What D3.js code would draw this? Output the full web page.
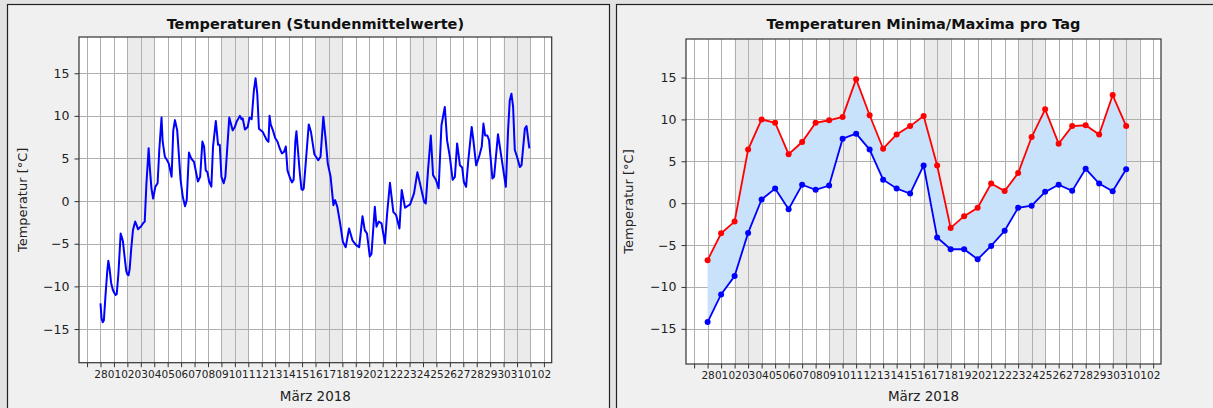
<!DOCTYPE html>
<html><head><meta charset="utf-8">
<script src="https://cdn.jsdelivr.net/npm/d3@7"></script>
<style>
body{margin:0;background:#e3e3e3;}
svg{display:block;font-family:"DejaVu Sans",sans-serif;}
</style>
</head><body>
<svg id="c" width="1213" height="408"></svg>
<script>
// ---------- data ----------
// hourly means: hours since 2018-02-28 00:00 and temperature
const hourOffsets = [0,2,4,6,9,12,14,16,19,22,25,27,29,32,36,38,40,43,46,48,50,52,55,58,62,65,67,70,72,76,79,82,86,88,91,94,98,102,105,109,111,115,119,122,127,130,133,137,143,147,151,154,158,162,167,174,178,182,185,188,191,194,198,201,206,210,213,216,220,223,230,236,240,243,249,252,254,258,263,266,270,274,277,280,283,290,297,300,302,304,308,312,316,320,324,328,331,334,338,342,345,348,350,352,356,359,361,363,372,376,382,389,393,398,402,406,411,416,419,423,428,433,438,444,450,457,462,468,472,476,481,484,490,493,497,502,508,512,517,523,528,534,538,544,553,560,566,572,578,581,585,590,594,599,604,609,615,619,624,629,633,637,642,646,649,653,657,663,666,671,677,681,684,687,691,694,700,703,710,716,724,728,731,734,737,740,744,749,752,758,761,766];
const hourTemps = [-12.0,-13.8,-14.2,-14.0,-11.0,-8.3,-7.0,-7.8,-9.6,-10.4,-10.8,-11.0,-10.9,-8.5,-3.8,-4.2,-4.7,-6.5,-8.2,-8.6,-8.7,-8.0,-5.5,-3.4,-2.4,-2.9,-3.3,-3.1,-3.0,-2.6,-2.4,2.0,6.2,4.0,1.5,0.3,1.7,2.1,6.0,9.8,7.0,5.2,4.8,4.4,2.85,8.3,9.5,8.3,2.5,0.5,-0.6,0.1,5.7,5.0,4.6,2.3,2.85,7.0,6.4,3.6,3.4,2.3,1.7,6.4,9.4,6.6,6.6,2.85,2.1,2.85,9.8,8.3,8.7,9.3,10.0,9.6,9.7,8.4,8.7,9.8,9.6,13.0,14.4,12.6,8.5,8.1,7.15,6.95,10.0,9.0,8.3,7.4,7.0,6.2,5.6,5.8,6.4,3.6,2.8,2.2,2.5,7.0,8.2,6.5,3.3,1.4,1.3,1.5,9.0,8.1,5.5,4.8,5.2,9.9,7.35,4.4,2.85,-0.47,0.12,-0.67,-2.6,-4.8,-5.4,-3.2,-4.6,-5.2,-5.4,-1.76,-3.4,-3.8,-6.5,-6.2,-0.67,-3.0,-2.4,-2.6,-4.96,-1.44,2.15,-1.25,-1.64,-3.2,1.3,-0.78,-0.39,0.9,3.4,1.68,-0.08,-0.27,3.6,7.7,3.05,2.5,1.5,8.9,11.05,7.15,5.2,2.5,2.85,6.77,4.2,3.95,2.27,1.68,4.8,8.7,7.15,4.2,5.4,6.4,9.1,7.7,7.7,7.15,2.66,2.85,7.85,5.2,1.68,8.3,11.8,12.6,11.05,6.0,5.2,4.0,4.2,8.5,8.8,6.2];

const dayDates = ["2018-02-28","2018-03-01","2018-03-02","2018-03-03","2018-03-04","2018-03-05","2018-03-06","2018-03-07","2018-03-08","2018-03-09","2018-03-10","2018-03-11","2018-03-12","2018-03-13","2018-03-14","2018-03-15","2018-03-16","2018-03-17","2018-03-18","2018-03-19","2018-03-20","2018-03-21","2018-03-22","2018-03-23","2018-03-24","2018-03-25","2018-03-26","2018-03-27","2018-03-28","2018-03-29","2018-03-30","2018-03-31"];
const dailyMax = [-6.8,-3.6,-2.2,6.4,10.0,9.6,5.85,7.3,9.6,9.9,10.3,14.8,10.5,6.5,8.2,9.2,10.4,4.5,-2.95,-1.55,-0.55,2.35,1.45,3.6,7.9,11.2,7.1,9.2,9.3,8.2,12.9,9.2];
const dailyMin = [-14.2,-10.9,-8.7,-3.55,0.44,1.75,-0.72,2.2,1.6,2.1,7.7,8.3,6.4,2.8,1.75,1.15,4.5,-4.1,-5.5,-5.5,-6.7,-5.1,-3.3,-0.55,-0.3,1.35,2.2,1.47,4.1,2.35,1.43,4.05];

const tickDays = ["2018-02-27","2018-02-28","2018-03-01","2018-03-02","2018-03-03","2018-03-04","2018-03-05","2018-03-06","2018-03-07","2018-03-08","2018-03-09","2018-03-10","2018-03-11","2018-03-12","2018-03-13","2018-03-14","2018-03-15","2018-03-16","2018-03-17","2018-03-18","2018-03-19","2018-03-20","2018-03-21","2018-03-22","2018-03-23","2018-03-24","2018-03-25","2018-03-26","2018-03-27","2018-03-28","2018-03-29","2018-03-30","2018-03-31","2018-04-01","2018-04-02"];
const tickLabels = ["","28","01","02","03","04","05","06","07","08","09","10","11","12","13","14","15","16","17","18","19","20","21","22","23","24","25","26","27","28","29","30","31","01","02"];
const shadeStarts = ["2018-03-02","2018-03-09","2018-03-16","2018-03-23","2018-03-30"];
const shadeEnds   = ["2018-03-04","2018-03-11","2018-03-18","2018-03-25","2018-04-01"];
const yTicks = [-15,-10,-5,0,5,10,15];

const titleLeft = "Temperaturen (Stundenmittelwerte)";
const titleRight = "Temperaturen Minima/Maxima pro Tag";
const yLabel = "Temperatur [°C]";
const xLabel = "März 2018";

// ---------- helpers ----------
const DAY = 86400000;
const parse = s => new Date(s + "T00:00:00Z");
const base = parse("2018-02-28");
const xDom = [new Date(+base - 1.6*DAY), new Date(+base + 33.58*DAY)];

const svg = d3.select("#c");

function panel(cfg){
  svg.append("rect").attr("x",cfg.px).attr("y",cfg.py).attr("width",cfg.pw).attr("height",440)
    .attr("fill","#f0f0f0").attr("stroke","#222").attr("stroke-width",1.2);
  const x = d3.scaleUtc().domain(xDom).range([cfg.ax, cfg.ax+cfg.aw]);
  const y = d3.scaleLinear().domain(cfg.yDom).range([cfg.ay+cfg.ah, cfg.ay]);
  const g = svg.append("g");
  g.append("rect").attr("x",cfg.ax).attr("y",cfg.ay).attr("width",cfg.aw).attr("height",cfg.ah).attr("fill","#fff");
  g.selectAll(".sh").data(shadeStarts).enter().append("rect")
    .attr("x",d=>x(parse(d))).attr("y",cfg.ay)
    .attr("width",(d,i)=>x(parse(shadeEnds[i]))-x(parse(d))).attr("height",cfg.ah)
    .attr("fill","#ebebeb");
  g.selectAll(".vg").data(tickDays).enter().append("line")
    .attr("x1",d=>Math.round(x(parse(d)))+0.5).attr("x2",d=>Math.round(x(parse(d)))+0.5)
    .attr("y1",cfg.ay).attr("y2",cfg.ay+cfg.ah).attr("stroke","#b0b0b0").attr("stroke-width",1);
  g.selectAll(".hg").data(yTicks).enter().append("line")
    .attr("y1",d=>Math.round(y(d))+0.5).attr("y2",d=>Math.round(y(d))+0.5)
    .attr("x1",cfg.ax).attr("x2",cfg.ax+cfg.aw).attr("stroke","#b0b0b0").attr("stroke-width",1);
  cfg.draw(g, x, y);
  g.append("rect").attr("x",cfg.ax).attr("y",cfg.ay).attr("width",cfg.aw).attr("height",cfg.ah)
    .attr("fill","none").attr("stroke","#333").attr("stroke-width",1.2);
  const xa = d3.axisBottom(x).tickValues(tickDays.map(parse))
    .tickFormat((d,i)=>tickLabels[i]).tickSize(4.5).tickPadding(3);
  const gx = svg.append("g").attr("transform",`translate(0,${cfg.ay+cfg.ah})`).call(xa);
  gx.select(".domain").remove();
  gx.selectAll("line").attr("stroke","#333");
  gx.selectAll("text").attr("font-size","10.5px").attr("fill","#222").attr("font-family","DejaVu Sans");
  const ya = d3.axisLeft(y).tickValues(yTicks).tickFormat(d=>d<0?"\u2212"+Math.abs(d):d).tickSize(4.5).tickPadding(5);
  const gy = svg.append("g").attr("transform",`translate(${cfg.ax},0)`).call(ya);
  gy.select(".domain").remove();
  gy.selectAll("line").attr("stroke","#333");
  gy.selectAll("text").attr("font-size","12.5px").attr("fill","#222").attr("font-family","DejaVu Sans");
  svg.append("text").attr("x",cfg.ax+cfg.aw/2).attr("y",29).attr("text-anchor","middle")
    .attr("font-weight","bold").attr("font-size","14.5px").attr("fill","#111").text(cfg.title);
  svg.append("text").attr("x",cfg.ax+cfg.aw/2).attr("y",401).attr("text-anchor","middle")
    .attr("font-size","13.5px").attr("fill","#222").text(xLabel);
  svg.append("text").attr("transform",`translate(${cfg.ylx},${cfg.ay+cfg.ah/2}) rotate(-90)`)
    .attr("text-anchor","middle").attr("font-size","13px").attr("fill","#222").text(yLabel);
}

panel({px:7.5, py:4.5, pw:602, ax:79, ay:37, aw:472.7, ah:325.7, yDom:[-18.95,19.25], ylx:27, title:titleLeft,
  draw:(g,x,y)=>{
    const pts = hourOffsets.map((h,i)=>[new Date(+base + h*3600000), hourTemps[i]]);
    g.append("path").datum(pts).attr("fill","none").attr("stroke","#0000ff").attr("stroke-width",2)
      .attr("stroke-linejoin","round")
      .attr("d", d3.line().x(d=>x(d[0])).y(d=>y(d[1])));
  }});

panel({px:616.5, py:4.5, pw:610, ax:686, ay:39, aw:475, ah:325, yDom:[-19.2,19.6], ylx:633, title:titleRight,
  draw:(g,x,y)=>{
    const days = dayDates.map(parse);
    g.append("path").datum(days).attr("fill","#c9e2fb")
      .attr("d", d3.area().x(d=>x(d)).y0((d,i)=>y(dailyMin[i])).y1((d,i)=>y(dailyMax[i])));
    const ln = arr => d3.line().x((d,i)=>x(days[i])).y(d=>y(d))(arr);
    g.append("path").attr("d",ln(dailyMax)).attr("fill","none").attr("stroke","#ff0000").attr("stroke-width",1.8);
    g.append("path").attr("d",ln(dailyMin)).attr("fill","none").attr("stroke","#0000ff").attr("stroke-width",1.8);
    g.selectAll(".mx").data(dailyMax).enter().append("circle").attr("cx",(d,i)=>x(days[i])).attr("cy",d=>y(d)).attr("r",3).attr("fill","#ff0000");
    g.selectAll(".mn").data(dailyMin).enter().append("circle").attr("cx",(d,i)=>x(days[i])).attr("cy",d=>y(d)).attr("r",3).attr("fill","#0000ff");
  }});
</script>
</body></html>
